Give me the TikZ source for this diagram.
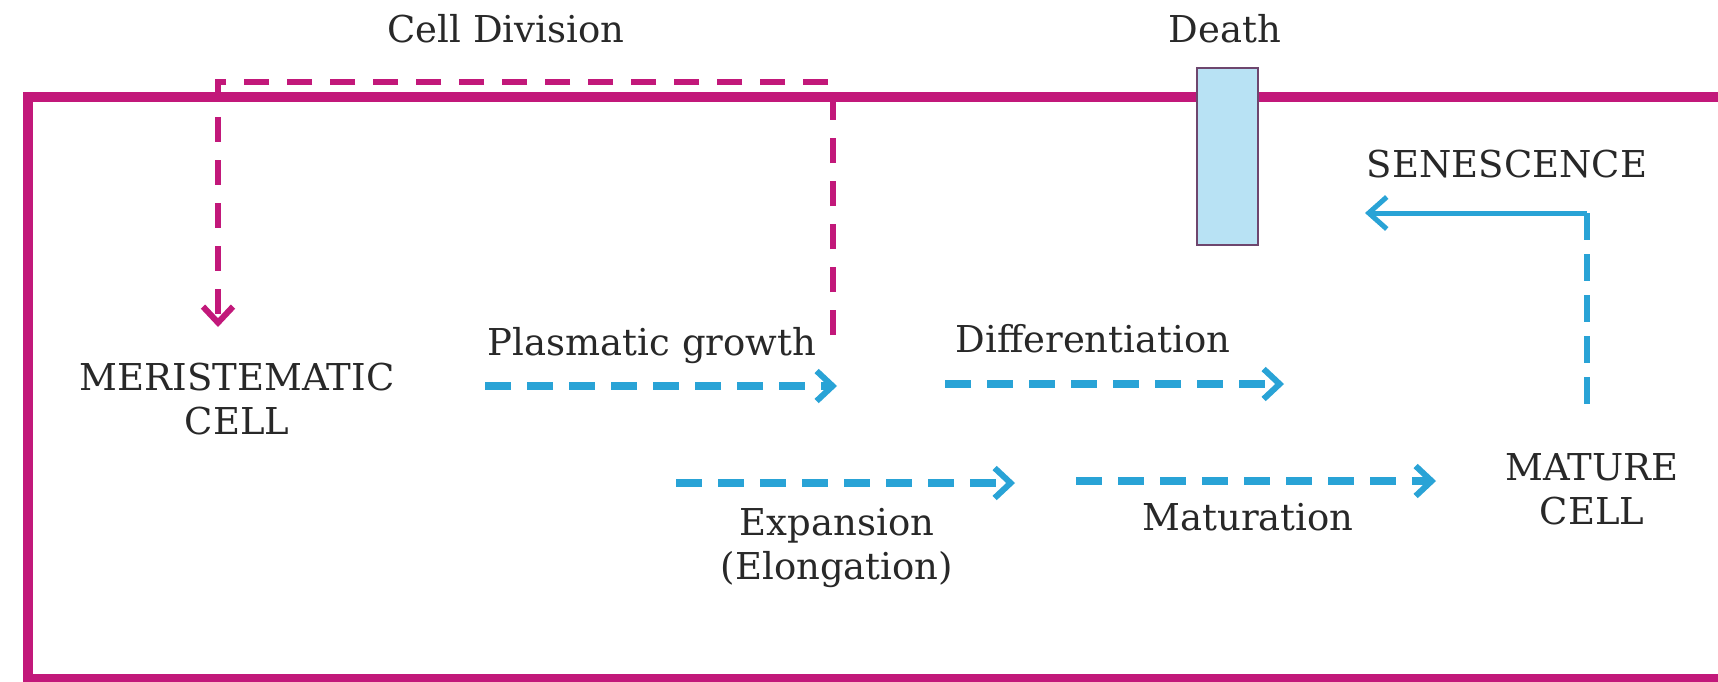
\documentclass[tikz,border=0pt]{standalone}
\usepackage{fontspec}
\setmainfont{DejaVu Serif}
\usetikzlibrary{arrows.meta}
\definecolor{pinkc}{RGB}{194,24,122}
\definecolor{bluec}{RGB}{41,163,214}
\definecolor{deathfill}{RGB}{184,226,244}
\definecolor{deathborder}{RGB}{110,70,110}
\definecolor{txtc}{RGB}{40,40,40}
\begin{document}
\begin{tikzpicture}[x=1pt,y=-1pt,
  lbl/.style={inner sep=0pt, anchor=base, text=txtc, font=\fontsize{37}{44}\selectfont},
  frameline/.style={draw=pinkc, line width=10pt},
  pinkdash/.style={draw=pinkc, line width=6pt, dash pattern=on 25pt off 18pt},
  bluedash/.style={draw=bluec, line width=8pt, dash pattern=on 26pt off 16pt},
  bluetip/.style={-{Straight Barb[length=16pt,width=30pt,line width=6pt]}},
  pinktip/.style={-{Straight Barb[length=16pt,width=30pt,line width=6pt]}},
  deathstyle/.style={draw=deathborder, fill=deathfill, line width=2pt, minimum width=61pt, minimum height=177pt, inner sep=0pt, anchor=north west},
]
\useasboundingbox (0,0) rectangle (1718,682);
\fill[white] (0,0) rectangle (1718,682);

% frame
\draw[frameline] (1740,97) -- (28,97) -- (28,679) -- (1740,679);

% cell division loop
\coordinate (cdR) at (833,335);
\coordinate (cdRT) at (833,82);
\coordinate (cdLT) at (218,82);
\coordinate (cdL) at (218,327);
\draw[pinkdash, pinktip] (cdR) -- (cdRT) -- (cdLT) -- (cdL);

% death box
\node[deathstyle] (deathbox) at (1196,67) {};

% labels
\node[lbl] (celldiv) at (506,43) {Cell Division};
\node[lbl] (death) at (1225,43) {Death};
\node[lbl] (senes) at (1507,177) {SENESCENCE};
\node[lbl] (meri) at (237,390) {\begin{tabular}[t]{@{}c@{}}MERISTEMATIC\\CELL\end{tabular}};
\node[lbl] (plasm) at (652,355) {Plasmatic growth};
\node[lbl] (diff) at (1093,352) {Differentiation};
\node[lbl] (expan) at (837,535) {\begin{tabular}[t]{@{}c@{}}Expansion\\(Elongation)\end{tabular}};
\node[lbl] (matur) at (1248,530) {Maturation};
\node[lbl] (mature) at (1592,480) {\begin{tabular}[t]{@{}c@{}}MATURE\\CELL\end{tabular}};

% blue arrows
\coordinate (pgA) at (485,386);
\coordinate (pgB) at (837,386);
\coordinate (dfA) at (945,384);
\coordinate (dfB) at (1284,384);
\coordinate (exA) at (676,483);
\coordinate (exB) at (1015,483);
\coordinate (mtA) at (1076,481);
\coordinate (mtB) at (1436,481);
\draw[bluedash, bluetip] (pgA) -- (pgB);
\draw[bluedash, bluetip] (dfA) -- (dfB);
\draw[bluedash, bluetip] (exA) -- (exB);
\draw[bluedash, bluetip] (mtA) -- (mtB);

% senescence arrow
\coordinate (senB) at (1587,418);
\coordinate (senC) at (1587,213);
\coordinate (senT) at (1365,213);
\draw[draw=bluec, line width=6pt, dash pattern=on 27pt off 14pt] (senC) -- (senB);
\draw[draw=bluec, line width=5pt, -{Straight Barb[length=18pt,width=32pt,line width=5pt]}] (senC) -- (senT);
\end{tikzpicture}
\end{document}
